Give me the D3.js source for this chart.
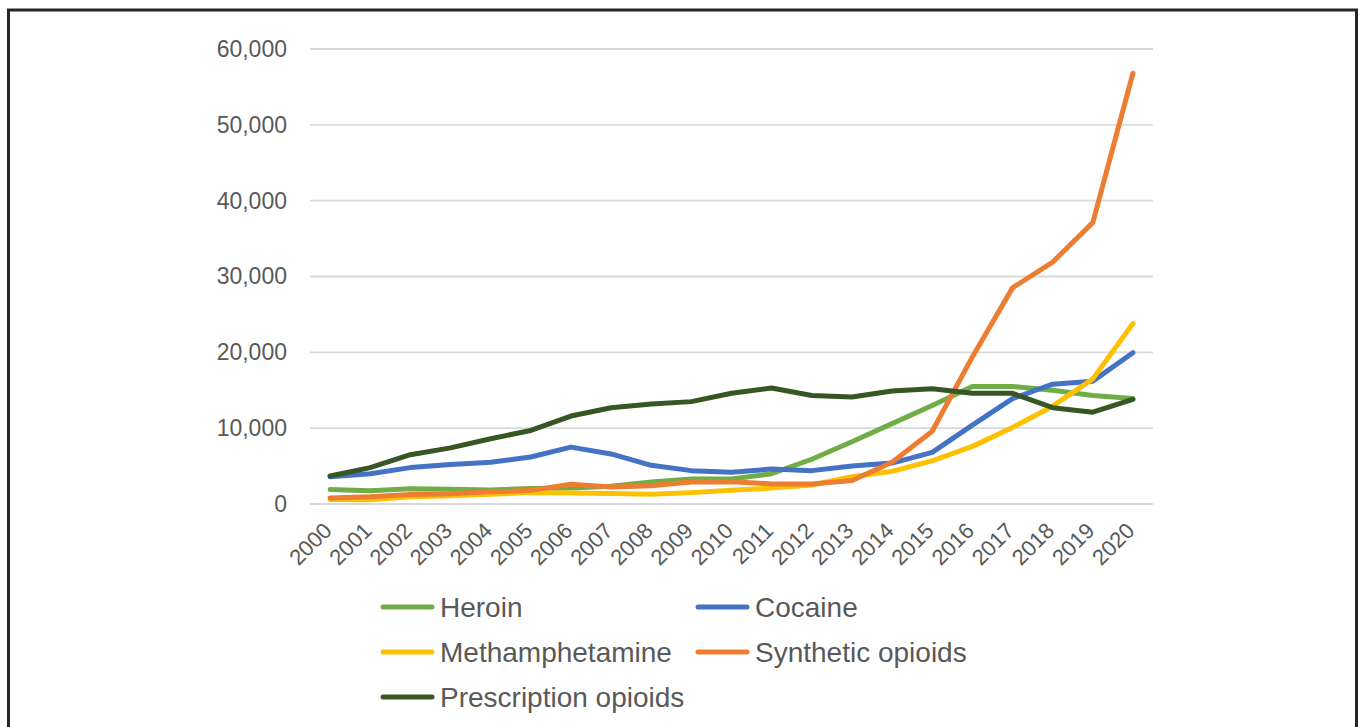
<!DOCTYPE html>
<html>
<head>
<meta charset="utf-8">
<script src="https://cdn.jsdelivr.net/npm/d3@7"></script>
<style>
  body { margin: 0; background: #fff; }
  svg { display: block; font-family: "Liberation Sans", Arial, sans-serif; }
</style>
</head>
<body>
<div id="chart"></div>
<script>
// years on the x axis
var years = ["2000","2001","2002","2003","2004","2005","2006","2007","2008","2009","2010",
             "2011","2012","2013","2014","2015","2016","2017","2018","2019","2020"];

// deaths per year
var heroin = [1900,1750,2000,1950,1850,2050,2100,2350,2900,3300,3300,
              4000,5900,8200,10600,13000,15500,15500,15000,14300,13900];
var cocaine = [3600,4000,4800,5200,5500,6200,7500,6600,5100,4400,4200,
               4600,4400,5000,5400,6800,10400,13900,15800,16200,19950];
var meth = [600,550,950,1100,1300,1500,1450,1400,1300,1500,1800,
            2100,2500,3600,4300,5700,7600,10100,12900,16500,23800];
var synthetic = [800,950,1250,1350,1600,1800,2600,2250,2400,2900,2950,
                 2650,2650,3100,5500,9600,19400,28500,31900,37100,56800];
var prescription = [3700,4800,6500,7400,8600,9700,11600,12700,13200,13500,14600,
                    15300,14300,14100,14900,15200,14600,14600,12700,12100,13800];

var seriesNames = ["Heroin","Cocaine","Methamphetamine","Synthetic opioids","Prescription opioids"];
var seriesColors = ["#70ad47","#4472c4","#ffc000","#ed7d31","#375623"];
var yTicks = [0,10000,20000,30000,40000,50000,60000];

var width = 1360, height = 727;
var svg = d3.select("#chart").append("svg")
    .attr("width", width)
    .attr("height", height);

// outer frame of the screenshot
svg.append("rect")
    .attr("x", 8.5).attr("y", 10)
    .attr("width", 1348).attr("height", 760)
    .attr("fill", "none")
    .attr("stroke", "#262626")
    .attr("stroke-width", 3);

var plot = {left: 310, right: 1153, top: 49, bottom: 504};

var x = d3.scaleBand()
    .domain(years)
    .range([plot.left, plot.right]);

var y = d3.scaleLinear()
    .domain([0, 60000])
    .range([plot.bottom, plot.top]);

// gridlines
svg.append("g")
    .selectAll("line")
    .data(yTicks)
    .enter()
    .append("line")
    .attr("x1", plot.left)
    .attr("x2", plot.right)
    .attr("y1", function(d) { return y(d); })
    .attr("y2", function(d) { return y(d); })
    .attr("stroke", "#d9d9d9")
    .attr("stroke-width", 1.8);

// y axis labels
var yAxis = d3.axisLeft(y)
    .tickValues(yTicks)
    .tickFormat(d3.format(","))
    .tickSize(0)
    .tickPadding(23);

svg.append("g")
    .attr("transform", "translate(" + plot.left + ",0)")
    .call(yAxis)
    .call(function(g) { g.select(".domain").remove(); })
    .selectAll("text")
    .attr("fill", "#595959")
    .style("font-size", "23px")
    .style("font-family", "Liberation Sans, Arial, sans-serif");

// x axis labels, rotated
var xAxis = d3.axisBottom(x).tickSize(0).tickPadding(0);
svg.append("g")
    .attr("transform", "translate(0," + plot.bottom + ")")
    .call(xAxis)
    .call(function(g) { g.select(".domain").remove(); })
    .selectAll("text")
    .attr("fill", "#595959")
    .style("font-size", "22px")
    .style("font-family", "Liberation Sans, Arial, sans-serif")
    .style("text-anchor", "end")
    .attr("dy", "0")
    .attr("transform", "translate(3,28) rotate(-45)");

// lines
var allSeries = [heroin, cocaine, meth, synthetic, prescription];
var line = d3.line()
    .x(function(d, i) { return x(years[i]) + x.bandwidth() / 2; })
    .y(function(d) { return y(d); });

svg.append("g")
    .selectAll("path")
    .data(allSeries)
    .enter()
    .append("path")
    .attr("d", function(d) { return line(d); })
    .attr("fill", "none")
    .attr("stroke", function(d, i) { return seriesColors[i]; })
    .attr("stroke-width", 5)
    .attr("stroke-linejoin", "round")
    .attr("stroke-linecap", "round");

// legend, two columns
var legendPos = [[383, 607], [698, 607], [383, 652], [698, 652], [383, 697]];
var legend = svg.append("g")
    .selectAll("g")
    .data(seriesNames)
    .enter()
    .append("g")
    .attr("transform", function(d, i) { return "translate(" + legendPos[i][0] + "," + legendPos[i][1] + ")"; });

legend.append("line")
    .attr("x1", 0).attr("x2", 49)
    .attr("y1", 0).attr("y2", 0)
    .attr("stroke", function(d, i) { return seriesColors[i]; })
    .attr("stroke-width", 5)
    .attr("stroke-linecap", "round");

legend.append("text")
    .attr("x", 57)
    .attr("y", 10)
    .attr("fill", "#595959")
    .style("font-size", "28px")
    .text(function(d) { return d; });
</script>
</body>
</html>
